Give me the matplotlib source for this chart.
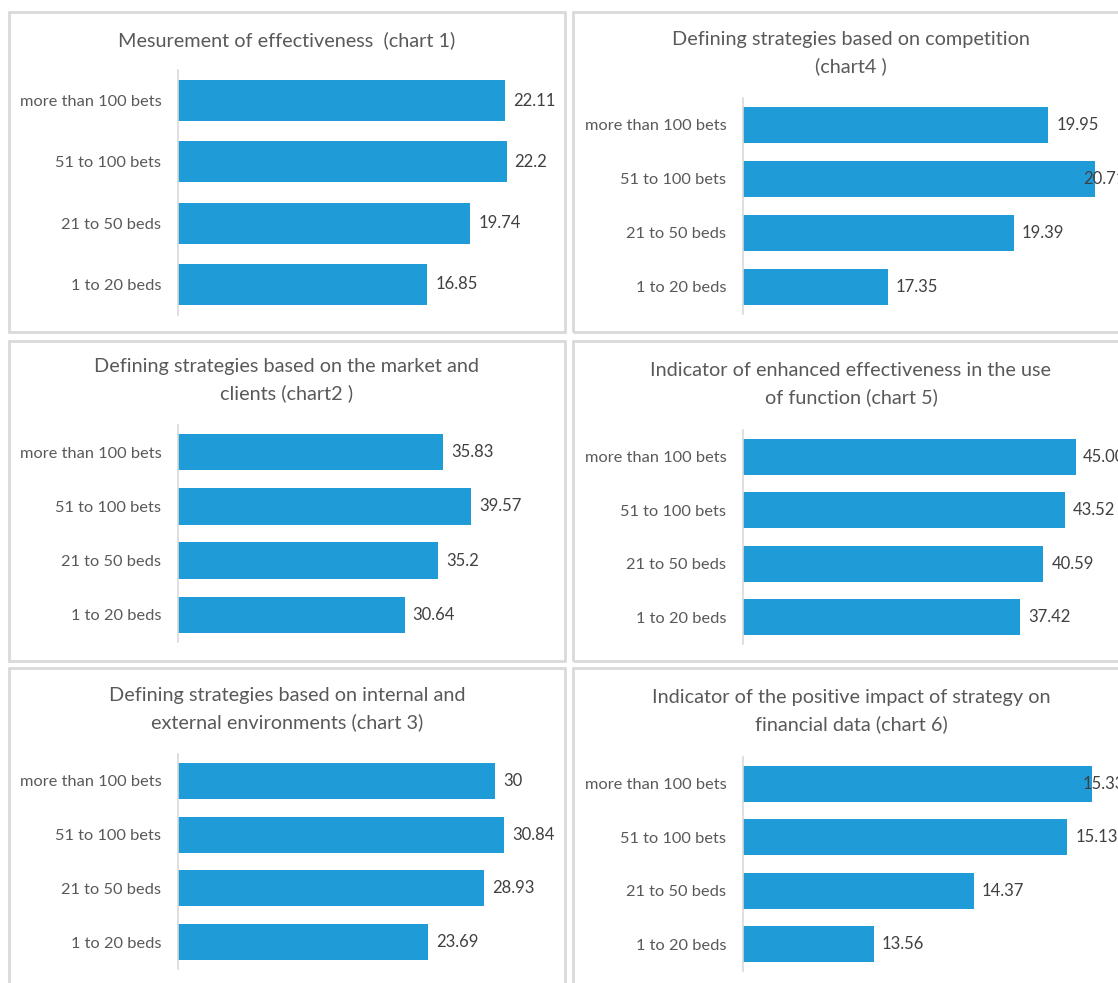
import matplotlib.pyplot as plt
from matplotlib.patches import Rectangle

W, H = 1118, 983
DPI = 100

plt.rcParams['font.family'] = ['Lato', 'DejaVu Sans']

# Data
categories = ["more than 100 bets", "51 to 100 bets", "21 to 50 beds", "1 to 20 beds"]

titles = [
    "Mesurement of effectiveness  (chart 1)",
    "Defining strategies based on the market and\nclients (chart2 )",
    "Defining strategies based on internal and\nexternal environments (chart 3)",
    "Defining strategies based on competition\n(chart4 )",
    "Indicator of enhanced effectiveness in the use\nof function (chart 5)",
    "Indicator of the positive impact of strategy on\nfinancial data (chart 6)",
]
values = [
    [22.11, 22.2, 19.74, 16.85],
    [35.83, 39.57, 35.2, 30.64],
    [30, 30.84, 28.93, 23.69],
    [19.95, 20.71, 19.39, 17.35],
    [45.00, 43.52, 40.59, 37.42],
    [15.33, 15.13, 14.37, 13.56],
]
labels = [
    ["22.11", "22.2", "19.74", "16.85"],
    ["35.83", "39.57", "35.2", "30.64"],
    ["30", "30.84", "28.93", "23.69"],
    ["19.95", "20.71", "19.39", "17.35"],
    ["45.00", "43.52", "40.59", "37.42"],
    ["15.33", "15.13", "14.37", "13.56"],
]
xlims = [(0, 25), (0, 50), (0, 35), (15, 21), (0, 50), (12.5, 15.5)]

# layout in pixels (top origin): frame box, axes box, title centre
frames = [(9, 12, 556, 320), (9, 341, 556, 320), (9, 668, 556, 330),
          (573, 12, 560, 320), (573, 341, 560, 320), (573, 668, 560, 330)]
axes_px = [(178, 70, 370, 245), (178, 425, 370, 217), (178, 754, 370, 215),
           (743, 98, 370, 216), (743, 430, 370, 214), (743, 757, 370, 214)]
title_px = [(287, 40), (287, 380), (287, 709), (851, 53), (851, 384), (851, 711)]

BAR = "#1f9cd8"
TXT = "#595959"
GRID = "#d9d9d9"

fig = plt.figure(figsize=(W / DPI, H / DPI), dpi=DPI)


def fx(px):
    return px / W


def fy(py):
    return 1 - py / H


for i in range(6):
    x0, y0, w, h = frames[i]
    fig.add_artist(Rectangle((fx(x0), fy(y0 + h)), w / W, h / H,
                             transform=fig.transFigure, fill=False,
                             edgecolor=GRID, linewidth=2))

    ax_l, ax_t, ax_w, ax_h = axes_px[i]
    ax = fig.add_axes([fx(ax_l), fy(ax_t + ax_h), ax_w / W, ax_h / H])
    y = list(range(len(categories)))
    ax.barh(y, values[i], height=0.67, color=BAR, left=0)
    ax.set_xlim(*xlims[i])
    ax.set_ylim(3.5, -0.5)
    ax.set_yticks(y)
    ax.set_yticklabels(categories)
    ax.set_xticks([])
    ax.tick_params(axis="y", length=0, pad=12, labelsize=11.8, labelcolor=TXT)
    for s in ["top", "right", "bottom"]:
        ax.spines[s].set_visible(False)
    ax.spines["left"].set_color(GRID)
    ax.spines["left"].set_linewidth(1.2)
    ax.patch.set_alpha(0)

    # value labels, kept inside the plot area like the original
    lo, hi = xlims[i]
    for j, v in enumerate(values[i]):
        end_px = ax_l + (v - lo) / (hi - lo) * ax_w
        lx = min(end_px + 8, ax_l + ax_w - 30)
        fig.text(fx(lx), fy(ax_t + (j + 0.5) * ax_h / 4), labels[i][j],
                 ha="left", va="center", fontsize=12, color="#404040")

    tx, ty = title_px[i]
    fig.text(fx(tx), fy(ty), titles[i], ha="center", va="center",
             fontsize=14.3, color=TXT, linespacing=1.6)

fig.savefig("out.png", dpi=DPI)
